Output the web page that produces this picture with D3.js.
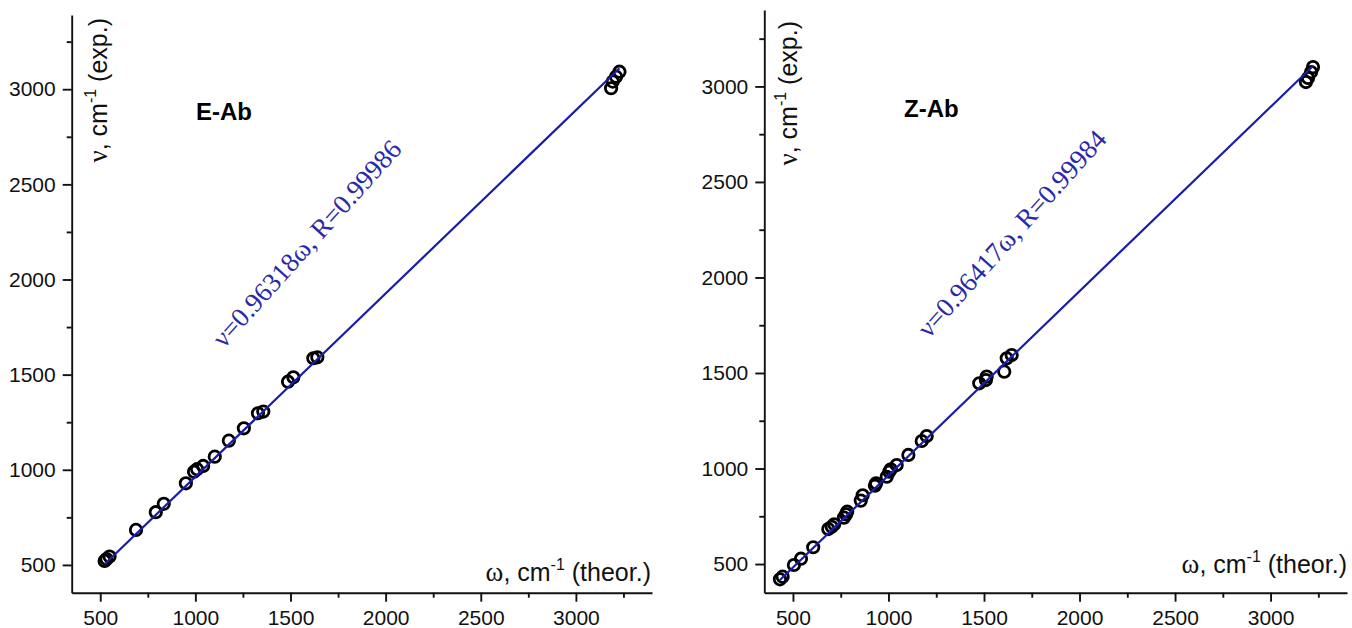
<!DOCTYPE html>
<html><head><meta charset="utf-8">
<script src="https://cdn.jsdelivr.net/npm/d3@7"></script>
<style>body{margin:0;background:#fff} svg{display:block}</style>
</head><body>
<svg id="c" width="1352" height="628"></svg>
<script>
// ---- data ----
const majorTicks = [500, 1000, 1500, 2000, 2500, 3000];
const minorTicks = [750, 1250, 1750, 2250, 2750, 3250];
const panelNames = ["E-Ab", "Z-Ab"];
const eAbTheor = [523, 533, 549, 688, 792, 834, 950, 993, 1009, 1041, 1102, 1176, 1255, 1329, 1357, 1487, 1515, 1620, 1641, 3185, 3194, 3211, 3229];
const eAbExp   = [521, 531, 544, 684, 777, 821, 929, 990, 1003, 1020, 1069, 1153, 1218, 1297, 1306, 1463, 1486, 1586, 1591, 3005, 3040, 3066, 3092];
const zAbTheor = [432, 446, 505, 542, 606, 685, 703, 716, 767, 778, 784, 855, 865, 929, 935, 991, 1004, 1012, 1043, 1104, 1174, 1200, 1475, 1510, 1514, 1606, 1619, 1645, 3185, 3196, 3212, 3222];
const zAbExp   = [420, 434, 495, 528, 588, 683, 695, 708, 743, 760, 774, 832, 860, 910, 923, 957, 983, 996, 1018, 1071, 1144, 1170, 1446, 1463, 1481, 1507, 1577, 1594, 3023, 3044, 3075, 3101];
const slopes = [0.96318, 0.96417];
const rValues = ["0.99986", "0.99984"];

// ---- layout ----
const layout = [
  {xr:[71.7, 652], xd:[350, 3400], yr:[592.7, 15], yd:[354, 3390],
   name:[196, 120], ylab:[107, 18], xlab:[651, 581], reg:[224, 349]},
  {xr:[764.3, 1347], xd:[350, 3400], yr:[592.7, 10], yd:[350, 3400],
   name:[904, 117], ylab:[797, 21], xlab:[1347, 573], reg:[929, 339]}
];
const theor = [eAbTheor, zAbTheor];
const expv = [eAbExp, zAbExp];

const svg = d3.select("#c");
const SANS = "'Liberation Sans', Arial, sans-serif";
const SERIF = "'Liberation Serif', 'Times New Roman', serif";

layout.forEach((L, i) => {
  const x = d3.scaleLinear().domain(L.xd).range(L.xr);
  const y = d3.scaleLinear().domain(L.yd).range(L.yr);
  const g = svg.append("g");
  const y0 = L.yr[0], x0 = L.xr[0];

  // axes
  g.append("g").attr("transform", `translate(0,${y0})`)
    .call(d3.axisBottom(x).tickValues(majorTicks).tickSize(9).tickPadding(8).tickSizeOuter(0).tickFormat(d3.format("d")));
  const xm = g.append("g").attr("transform", `translate(0,${y0})`)
    .call(d3.axisBottom(x).tickValues(minorTicks).tickSize(5).tickFormat(""));
  xm.select(".domain").remove();
  g.append("g").attr("transform", `translate(${x0},0)`)
    .call(d3.axisLeft(y).tickValues(majorTicks).tickSize(9).tickPadding(7).tickSizeOuter(0).tickFormat(d3.format("d")));
  const ym = g.append("g").attr("transform", `translate(${x0},0)`)
    .call(d3.axisLeft(y).tickValues(minorTicks).tickSize(5).tickFormat(""));
  ym.select(".domain").remove();
  g.selectAll(".domain, .tick line").attr("stroke", "#111").attr("stroke-width", 1.9);
  g.selectAll(".tick text").attr("font-family", SANS).attr("font-size", 21).attr("fill", "#111");

  // points
  const pts = d3.zip(theor[i], expv[i]);
  g.append("g").selectAll("circle").data(pts).join("circle")
    .attr("cx", d => x(d[0])).attr("cy", d => y(d[1])).attr("r", 5.7)
    .attr("fill", "none").attr("stroke", "#000").attr("stroke-width", 2.8);

  // regression line
  const ext = d3.extent(theor[i]);
  const line = d3.line().x(d => x(d)).y(d => y(slopes[i] * d));
  g.append("path").datum(ext).attr("d", line)
    .attr("fill", "none").attr("stroke", "#1c1caa").attr("stroke-width", 2.2);

  // panel name
  g.append("text").attr("x", L.name[0]).attr("y", L.name[1])
    .attr("font-family", SANS).attr("font-weight", "bold").attr("font-size", 24)
    .attr("fill", "#000").text(panelNames[i]);

  // y label
  const yl = g.append("text").attr("transform", `translate(${L.ylab[0]},${L.ylab[1]}) rotate(-90)`)
    .attr("text-anchor", "end").attr("font-family", SANS).attr("font-size", 25).attr("fill", "#111");
  yl.append("tspan").attr("font-family", SERIF).attr("font-size", 27).text("\u03bd");
  yl.append("tspan").text(", cm");
  yl.append("tspan").attr("font-size", 16).attr("dy", -11).text("-1");
  yl.append("tspan").attr("dy", 11).text(" (exp.)");

  // x label
  const xl = g.append("text").attr("x", L.xlab[0]).attr("y", L.xlab[1])
    .attr("text-anchor", "end").attr("font-family", SANS).attr("font-size", 25).attr("fill", "#111");
  xl.append("tspan").attr("font-family", SERIF).attr("font-size", 27).text("\u03c9");
  xl.append("tspan").text(", cm");
  xl.append("tspan").attr("font-size", 16).attr("dy", -11).text("-1");
  xl.append("tspan").attr("dy", 11).text(" (theor.)");

  // regression label
  g.append("text").attr("transform", `translate(${L.reg[0]},${L.reg[1]}) rotate(-48)`)
    .attr("font-family", SERIF).attr("font-size", 27).attr("fill", "#2a2aa8")
    .text(`\u03bd=${slopes[i]}\u03c9, R=${rValues[i]}`);
});
</script>
</body></html>
